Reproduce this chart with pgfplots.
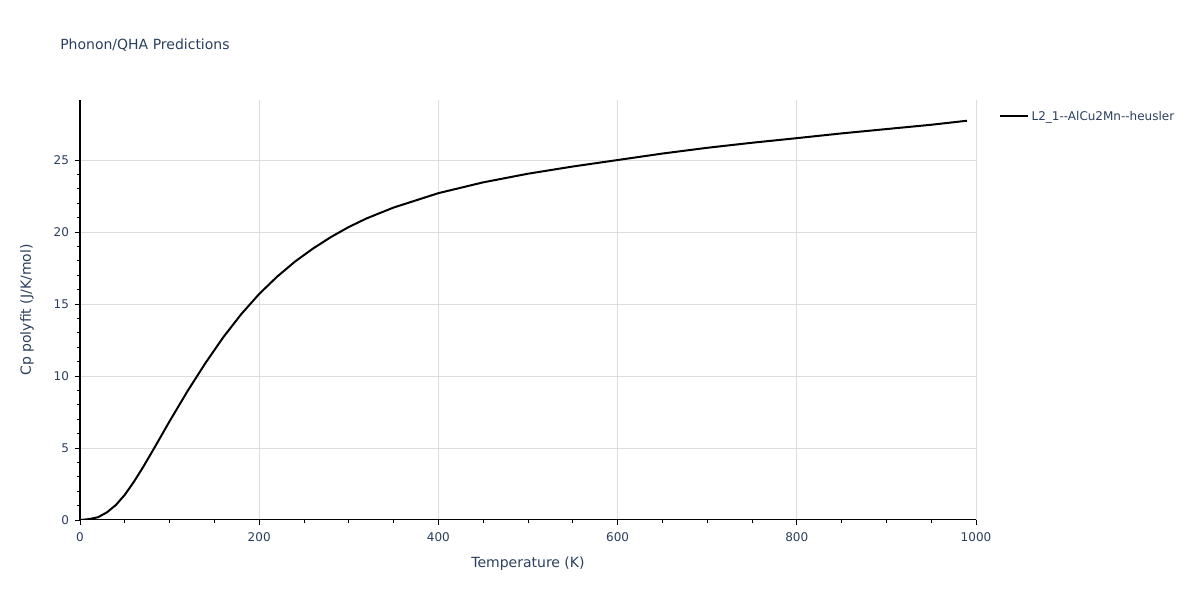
\documentclass[border=0pt]{standalone}
\usepackage{fontspec}
\setmainfont{DejaVu Sans}
\usepackage{pgfplots}
\pgfplotsset{compat=1.18}
\definecolor{plytext}{HTML}{2A3F5F}
\definecolor{plygrid}{HTML}{DDDDDD}
\begin{document}
\begin{tikzpicture}[x=1pt,y=1pt]
\useasboundingbox (0,0) rectangle (900,450);
\node[anchor=west, text=plytext, font=\fontsize{10.5}{12}\selectfont, inner sep=0pt] at (45,416.25) {Phonon/QHA Predictions};
\begin{axis}[
    at={(60pt,60pt)}, anchor=south west,
    scale only axis,
    width=672pt, height=315pt,
    xmin=0, xmax=1000,
    ymin=0, ymax=29.17,
    axis x line*=bottom, axis y line*=left,
    axis line style={black, line width=0.75pt, -},
    xtick={0,200,...,1000},
    ytick={0,5,...,25},
    minor x tick num=3,
    minor y tick num=4,
    tick align=outside,
    major tick length=3.75pt,
    minor tick length=2.6pt,
    tick style={black, line width=0.6pt},
    grid=major,
    major grid style={plygrid, line width=0.75pt},
    ticklabel style={text=plytext, font=\fontsize{9}{10}\selectfont},
    /pgf/number format/assume math mode=true,
    /pgf/number format/1000 sep={},
    xticklabel style={yshift=-2pt},
    yticklabel style={xshift=-1pt},
    xlabel={Temperature (K)},
    ylabel={Cp polyfit (J/K/mol)},
    label style={text=plytext, font=\fontsize{10.5}{12}\selectfont},
    xlabel style={yshift=-5pt},
    ylabel style={yshift=8pt},
    legend style={at={(1,1)}, anchor=north west, xshift=17pt, yshift=-6pt,
        draw=none, fill=none, font=\fontsize{9}{10}\selectfont, text=plytext,
        inner sep=0pt},
    legend cell align=left,
    legend image code/.code={\draw[#1, line width=1.5pt] (0pt,0pt) -- (21pt,0pt);},
]
\addplot[black, line width=1.5pt] coordinates {
    (0,0) (10,0.06) (20,0.19) (30,0.53) (40,1.04) (50,1.75) (60,2.64)
    (70,3.63) (80,4.69) (90,5.77) (100,6.86) (120,8.95) (140,10.9)
    (160,12.7) (180,14.3) (200,15.7) (220,16.9) (240,17.95) (260,18.85)
    (280,19.65) (300,20.35) (320,20.95) (350,21.7) (380,22.3) (400,22.7)
    (450,23.45) (500,24.05) (550,24.55) (600,25.0) (650,25.45) (700,25.85)
    (750,26.2) (800,26.52) (850,26.85) (900,27.15) (950,27.45) (990,27.73)
};
\addlegendentry{L2\_1-{}-AlCu2Mn-{}-heusler}
\end{axis}
\end{tikzpicture}
\end{document}
